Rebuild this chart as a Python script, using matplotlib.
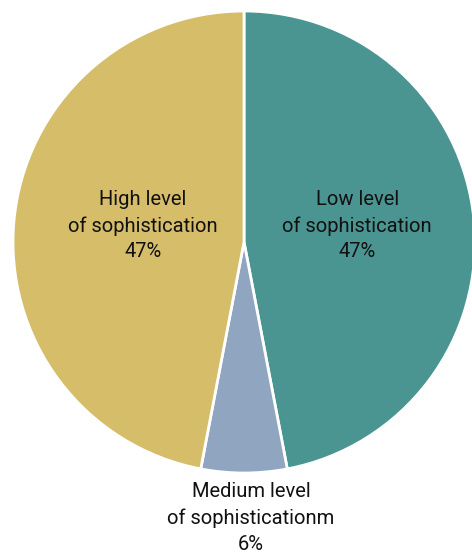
import matplotlib
matplotlib.use("Agg")
import matplotlib.pyplot as plt

# données
categories = ["Low level\nof sophistication", "Medium level\nof sophisticationm", "High level\nof sophistication"]
valeurs = [47, 6, 47]
couleurs = ["#4A9591", "#90A6C0", "#D5BD6A"]

plt.rcParams['font.family'] = ['Roboto', 'DejaVu Sans']

fig = plt.figure(figsize=(4.72, 5.57), dpi=100)
R = 231
cx, cy = 244, 557 - 242
ax = fig.add_axes([(cx - R) / 472, (cy - R) / 557, 2 * R / 472, 2 * R / 557])

ax.pie(valeurs, colors=couleurs, startangle=90, counterclock=False, radius=1,
       wedgeprops=dict(edgecolor='white', linewidth=2))
ax.set_xlim(-1, 1)
ax.set_ylim(-1, 1)
ax.set_aspect('equal')
ax.axis('off')

# positions des étiquettes
pos = [(0.49, 0.07), (0.03, -1.195), (-0.437, 0.07)]
for lab, v, (x, y) in zip(categories, valeurs, pos):
    ax.text(x, y, "%s\n%d%%" % (lab, v), ha='center', va='center', fontsize=14.5,
            color='#111111', linespacing=1.45, clip_on=False)

fig.savefig("out.png", dpi=100)
